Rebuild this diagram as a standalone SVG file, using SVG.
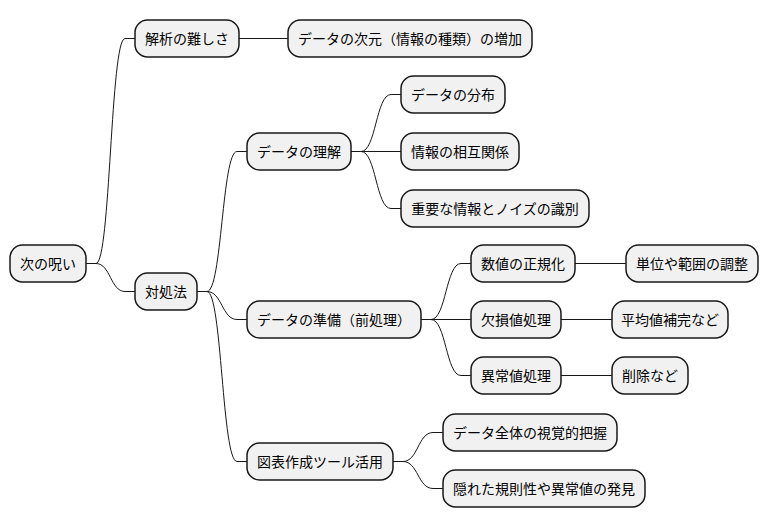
<svg xmlns="http://www.w3.org/2000/svg" width="768" height="527" viewBox="0 0 768 527">
<style>
.n rect{fill:#F1F1F1;stroke:#181818;stroke-width:1.5}
.n text{font-family:"Noto Sans CJK JP","Noto Sans",sans-serif;font-size:14px;fill:#000;text-anchor:middle}
.c path{fill:none;stroke:#181818;stroke-width:1}
</style>
<rect width="768" height="527" fill="#FFFFFF"/>
<g class="c" id="connectors">
<path d="M86,263.5 L96,263.5 C110.5,263.5 110.5,38.5 125,38.5 L135,38.5"/>
<path d="M86,263.5 L96,263.5 C110.5,263.5 110.5,291.5 125,291.5 L135,291.5"/>
<path d="M239,38.5 L288,38.5"/>
<path d="M197,291.5 L207,291.5 C222,291.5 222,151.5 237,151.5 L247,151.5"/>
<path d="M197,291.5 L207,291.5 C222,291.5 222,319.5 237,319.5 L247,319.5"/>
<path d="M197,291.5 L207,291.5 C222,291.5 222,461.5 237,461.5 L247,461.5"/>
<path d="M351,151.5 L361,151.5 C376,151.5 376,94.5 391,94.5 L401,94.5"/>
<path d="M351,151.5 L401,151.5"/>
<path d="M351,151.5 L361,151.5 C376,151.5 376,208.5 391,208.5 L401,208.5"/>
<path d="M421,319.5 L431,319.5 C446,319.5 446,263.5 461,263.5 L471,263.5"/>
<path d="M421,319.5 L471,319.5"/>
<path d="M421,319.5 L431,319.5 C446,319.5 446,375.5 461,375.5 L471,375.5"/>
<path d="M575,263.5 L626,263.5"/>
<path d="M561,319.5 L612,319.5"/>
<path d="M561,375.5 L612,375.5"/>
<path d="M393,461.5 L403,461.5 C418,461.5 418,432.5 433,432.5 L443,432.5"/>
<path d="M393,461.5 L403,461.5 C418,461.5 418,488.5 433,488.5 L443,488.5"/>
</g>
<g class="n" id="n-root"><rect x="10" y="245" width="76" height="37" rx="12.5"/><text x="48" y="268.5">次の呪い</text></g>
<g class="n" id="n-kaiseki"><rect x="135" y="20" width="104" height="37" rx="12.5"/><text x="187" y="43.5">解析の難しさ</text></g>
<g class="n" id="n-jigen"><rect x="288" y="20" width="244" height="37" rx="12.5"/><text x="410" y="43.5">データの次元（情報の種類）の増加</text></g>
<g class="n" id="n-taisho"><rect x="135" y="273" width="62" height="37" rx="12.5"/><text x="166" y="296.5">対処法</text></g>
<g class="n" id="n-rikai"><rect x="247" y="133" width="104" height="37" rx="12.5"/><text x="299" y="156.5">データの理解</text></g>
<g class="n" id="n-bunpu"><rect x="401" y="76" width="104" height="37" rx="12.5"/><text x="453" y="99.5">データの分布</text></g>
<g class="n" id="n-sogo"><rect x="401" y="133" width="118" height="37" rx="12.5"/><text x="460" y="156.5">情報の相互関係</text></g>
<g class="n" id="n-noise"><rect x="401" y="190" width="188" height="37" rx="12.5"/><text x="495" y="213.5">重要な情報とノイズの識別</text></g>
<g class="n" id="n-junbi"><rect x="247" y="301" width="174" height="37" rx="12.5"/><text x="334" y="324.5">データの準備（前処理）</text></g>
<g class="n" id="n-seiki"><rect x="471" y="245" width="104" height="37" rx="12.5"/><text x="523" y="268.5">数値の正規化</text></g>
<g class="n" id="n-tani"><rect x="626" y="245" width="132" height="37" rx="12.5"/><text x="692" y="268.5">単位や範囲の調整</text></g>
<g class="n" id="n-kesson"><rect x="471" y="301" width="90" height="37" rx="12.5"/><text x="516" y="324.5">欠損値処理</text></g>
<g class="n" id="n-heikin"><rect x="612" y="301" width="116" height="37" rx="12.5"/><text x="670" y="324.5">平均値補完など</text></g>
<g class="n" id="n-ijou"><rect x="471" y="357" width="90" height="37" rx="12.5"/><text x="516" y="380.5">異常値処理</text></g>
<g class="n" id="n-sakujo"><rect x="612" y="357" width="76" height="37" rx="12.5"/><text x="650" y="380.5">削除など</text></g>
<g class="n" id="n-zuhyo"><rect x="247" y="443" width="146" height="37" rx="12.5"/><text x="320" y="466.5">図表作成ツール活用</text></g>
<g class="n" id="n-shikaku"><rect x="443" y="414" width="174" height="37" rx="12.5"/><text x="530" y="437.5">データ全体の視覚的把握</text></g>
<g class="n" id="n-hakken"><rect x="443" y="470" width="202" height="37" rx="12.5"/><text x="544" y="493.5">隠れた規則性や異常値の発見</text></g>
</svg>
